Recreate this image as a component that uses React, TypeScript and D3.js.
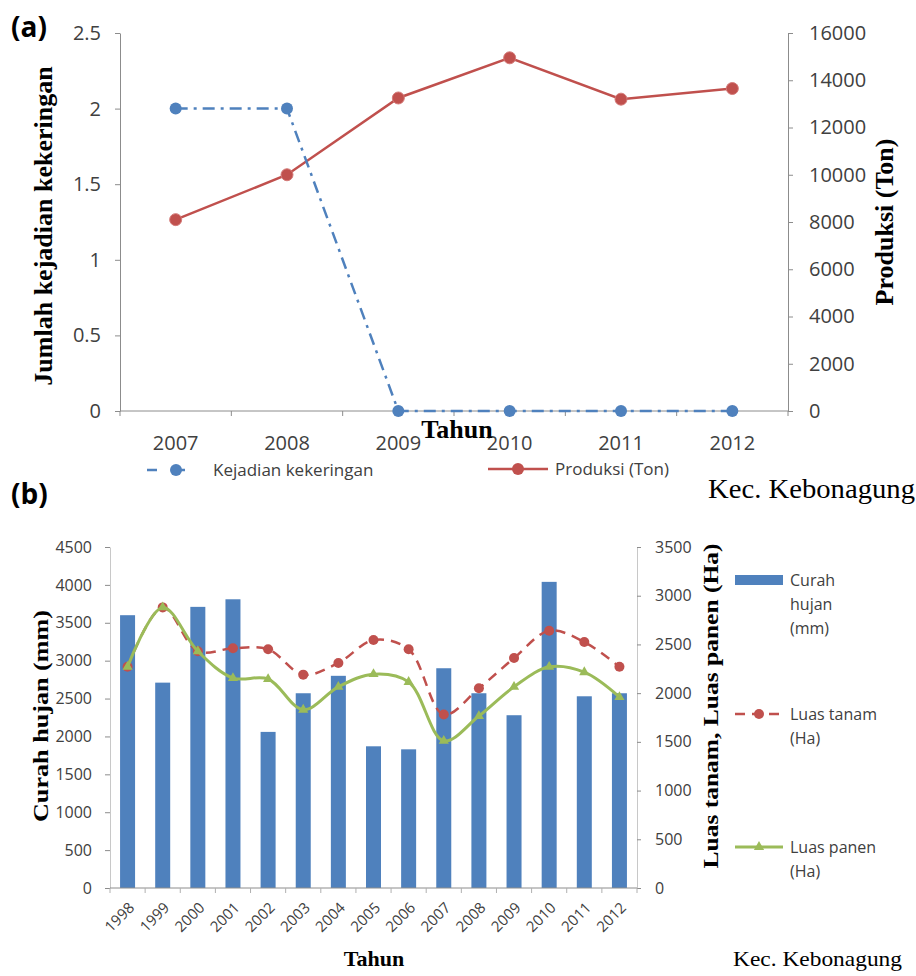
import React, { useEffect, useRef } from 'react';
import * as d3 from 'd3';

// panel (a)
const yearsA = ['2007', '2008', '2009', '2010', '2011', '2012'];
const kejadian = [2, 2, 0, 0, 0, 0];
const produksi = [8100, 10000, 13250, 14950, 13200, 13650];
const leftTicksA = [0, 0.5, 1, 1.5, 2, 2.5];
const rightTicksA = [0, 2000, 4000, 6000, 8000, 10000, 12000, 14000, 16000];

// panel (b)
const yearsB = ['1998', '1999', '2000', '2001', '2002', '2003', '2004', '2005', '2006', '2007', '2008', '2009', '2010', '2011', '2012'];
const curahHujan = [3600, 2710, 3710, 3810, 2060, 2570, 2800, 1870, 1830, 2900, 2570, 2280, 4040, 2530, 2570];
const luasTanam = [2270, 2880, 2430, 2460, 2450, 2190, 2310, 2545, 2450, 1780, 2050, 2360, 2640, 2525, 2270];
const luasPanen = [2270, 2880, 2430, 2155, 2145, 1830, 2065, 2195, 2115, 1510, 1765, 2065, 2270, 2215, 1960];
const leftTicksB = [0, 500, 1000, 1500, 2000, 2500, 3000, 3500, 4000, 4500];
const rightTicksB = [0, 500, 1000, 1500, 2000, 2500, 3000, 3500];

const BLUE = '#4F81BD';
const RED = '#C0504D';
const GREEN = '#9BBB59';
const AXIS = '#8c8c8c';
const TXT = '#404040';
const SANS = "'Open Sans', 'Liberation Sans', sans-serif";
const SERIF = "'Liberation Serif', 'Times New Roman', serif";

export default function App() {
  const svgRef = useRef<SVGSVGElement>(null);

  useEffect(() => {
    const svg = d3.select(svgRef.current);
    svg.selectAll('*').remove();

    const styleAxis = (g: any, size: number) => {
      g.select('.domain').attr('stroke', AXIS);
      g.selectAll('.tick line').attr('stroke', AXIS);
      g.selectAll('.tick text').attr('fill', TXT).attr('font-family', SANS).attr('font-size', size);
    };

    // ---------- (a) ----------
    const xA = d3.scaleBand<string>().domain(yearsA).range([120, 788]);
    const bwA = xA.bandwidth();
    const yL = d3.scaleLinear().domain([0, 2.5]).range([411, 33]);
    const yR = d3.scaleLinear().domain([0, 16000]).range([411, 33]);

    const gA = svg.append('g');

    const axL = gA.append('g').attr('transform', 'translate(120,0)')
      .call(d3.axisLeft(yL).tickValues(leftTicksA).tickSizeInner(5).tickSizeOuter(0).tickPadding(14).tickFormat((d: any) => String(d)));
    styleAxis(axL, 20);

    const axR = gA.append('g').attr('transform', 'translate(788,0)')
      .call(d3.axisRight(yR).tickValues(rightTicksA).tickSizeInner(5).tickSizeOuter(0).tickPadding(16).tickFormat((d: any) => String(d)));
    styleAxis(axR, 20);

    // bottom axis (a)
    gA.append('line').attr('x1', 120).attr('x2', 788).attr('y1', yL(0)).attr('y2', yL(0)).attr('stroke', AXIS);
    gA.selectAll('.tickA').data([...yearsA.map(d => xA(d)!), 788]).join('line')
      .attr('x1', d => d).attr('x2', d => d).attr('y1', yL(0)).attr('y2', yL(0) + 5).attr('stroke', AXIS);
    gA.selectAll('.labA').data(yearsA).join('text')
      .attr('x', d => xA(d)! + bwA / 2).attr('y', 450).attr('text-anchor', 'middle')
      .attr('font-family', SANS).attr('font-size', 20).attr('fill', TXT).text(d => d);

    const cxA = (i: number) => xA(yearsA[i])! + bwA / 2;

    // produksi line
    gA.append('path').datum(produksi)
      .attr('fill', 'none').attr('stroke', RED).attr('stroke-width', 2.5)
      .attr('d', d3.line<number>().x((d, i) => cxA(i)).y(d => yR(d)));
    gA.selectAll('.ptP').data(produksi).join('circle')
      .attr('cx', (d, i) => cxA(i)).attr('cy', d => yR(d)).attr('r', 6)
      .attr('fill', RED).attr('stroke', '#d47a78').attr('stroke-width', 1);

    // kejadian line
    gA.append('path').datum(kejadian)
      .attr('fill', 'none').attr('stroke', BLUE).attr('stroke-width', 2.5)
      .attr('stroke-dasharray', '12,6,3,6')
      .attr('d', d3.line<number>().x((d, i) => cxA(i)).y(d => yL(d)));
    gA.selectAll('.ptK').data(kejadian).join('circle')
      .attr('cx', (d, i) => cxA(i)).attr('cy', d => yL(d)).attr('r', 6)
      .attr('fill', BLUE);

    // axis titles (a)
    gA.append('text').attr('transform', 'translate(52,226) rotate(-90)')
      .attr('text-anchor', 'middle').attr('font-family', SERIF).attr('font-weight', 'bold')
      .attr('font-size', 26).attr('fill', '#000').text('Jumlah kejadian kekeringan');
    gA.append('text').attr('transform', 'translate(893,222) rotate(-90)')
      .attr('text-anchor', 'middle').attr('font-family', SERIF).attr('font-weight', 'bold')
      .attr('font-size', 26).attr('fill', '#000').text('Produksi (Ton)');
    gA.append('text').attr('x', 457).attr('y', 438).attr('text-anchor', 'middle')
      .attr('font-family', SERIF).attr('font-weight', 'bold').attr('font-size', 26).text('Tahun');

    // legend (a)
    gA.append('line').attr('x1', 147).attr('x2', 197).attr('y1', 470).attr('y2', 470)
      .attr('stroke', BLUE).attr('stroke-width', 2.5).attr('stroke-dasharray', '10,18');
    gA.append('circle').attr('cx', 176).attr('cy', 470).attr('r', 6).attr('fill', BLUE);
    gA.append('text').attr('x', 213).attr('y', 476).attr('font-family', SANS).attr('font-size', 17)
      .attr('fill', TXT).text('Kejadian kekeringan');
    gA.append('line').attr('x1', 488).attr('x2', 548).attr('y1', 469).attr('y2', 469)
      .attr('stroke', RED).attr('stroke-width', 2.5);
    gA.append('circle').attr('cx', 518).attr('cy', 469).attr('r', 6).attr('fill', RED);
    gA.append('text').attr('x', 555).attr('y', 475).attr('font-family', SANS).attr('font-size', 17)
      .attr('fill', TXT).text('Produksi (Ton)');

    gA.append('text').attr('x', 708).attr('y', 498).attr('font-family', SERIF).attr('font-size', 27)
      .attr('textLength', 207).attr('lengthAdjust', 'spacingAndGlyphs').text('Kec. Kebonagung');
    gA.append('text').attr('x', 11).attr('y', 37).attr('font-family', SANS).attr('font-weight', 'bold')
      .attr('font-size', 28).text('(a)');

    // ---------- (b) ----------
    const xB = d3.scaleBand<string>().domain(yearsB).range([110, 637]);
    const bwB = xB.bandwidth();
    const barW = 15;
    const yB = d3.scaleLinear().domain([0, 4500]).range([888, 547]);
    const yB2 = d3.scaleLinear().domain([0, 3500]).range([888, 547]);
    const cxB = (i: number) => xB(yearsB[i])! + bwB / 2;

    const gB = svg.append('g');

    const axBL = gB.append('g').attr('transform', 'translate(110,0)')
      .call(d3.axisLeft(yB).tickValues(leftTicksB).tickSizeInner(5).tickSizeOuter(0).tickPadding(13).tickFormat((d: any) => String(d)));
    styleAxis(axBL, 16);
    axBL.select('.domain').attr('stroke', '#c8c8c8');

    const axBR = gB.append('g').attr('transform', 'translate(637,0)')
      .call(d3.axisRight(yB2).tickValues(rightTicksB).tickSizeInner(4).tickSizeOuter(0).tickPadding(14).tickFormat((d: any) => String(d)));
    styleAxis(axBR, 16);
    axBR.select('.domain').attr('stroke', '#c8c8c8');

    // bars
    gB.selectAll('.bar').data(curahHujan).join('rect')
      .attr('x', (d, i) => cxB(i) - barW / 2).attr('width', barW)
      .attr('y', d => yB(d)).attr('height', d => 888 - yB(d)).attr('fill', BLUE);

    // bottom axis (b)
    gB.append('line').attr('x1', 110).attr('x2', 637).attr('y1', 888).attr('y2', 888).attr('stroke', AXIS);
    gB.selectAll('.tickB').data([...yearsB.map(d => xB(d)!), 637]).join('line')
      .attr('x1', d => d).attr('x2', d => d).attr('y1', 888).attr('y2', 893).attr('stroke', '#b0b0b0');
    gB.selectAll('.labB').data(yearsB).join('text')
      .attr('transform', d => `translate(${xB(d)! + bwB / 2 + 4},${905}) rotate(-45)`)
      .attr('text-anchor', 'end').attr('dy', '0.35em')
      .attr('font-family', SANS).attr('font-size', 15).attr('fill', TXT).text(d => d);

    const curve = d3.curveCatmullRom.alpha(0.5);

    // luas tanam
    gB.append('path').datum(luasTanam)
      .attr('fill', 'none').attr('stroke', RED).attr('stroke-width', 2.5).attr('stroke-dasharray', '10,7')
      .attr('d', d3.line<number>().x((d, i) => cxB(i)).y(d => yB2(d)).curve(curve));
    gB.selectAll('.ptT').data(luasTanam).join('circle')
      .attr('cx', (d, i) => cxB(i)).attr('cy', d => yB2(d)).attr('r', 5).attr('fill', RED);

    // luas panen
    gB.append('path').datum(luasPanen)
      .attr('fill', 'none').attr('stroke', GREEN).attr('stroke-width', 3)
      .attr('d', d3.line<number>().x((d, i) => cxB(i)).y(d => yB2(d)).curve(curve));
    const tri = d3.symbol().type(d3.symbolTriangle).size(45);
    gB.selectAll('.ptG').data(luasPanen).join('path')
      .attr('transform', (d, i) => `translate(${cxB(i)},${yB2(d)})`)
      .attr('d', tri() as string).attr('fill', GREEN);

    // axis titles (b)
    gB.append('text').attr('transform', 'translate(48,716) rotate(-90)')
      .attr('text-anchor', 'middle').attr('font-family', SERIF).attr('font-weight', 'bold')
      .attr('font-size', 22).attr('textLength', 212).attr('lengthAdjust', 'spacingAndGlyphs')
      .text('Curah hujan (mm)');
    gB.append('text').attr('transform', 'translate(718,706) rotate(-90)')
      .attr('text-anchor', 'middle').attr('font-family', SERIF).attr('font-weight', 'bold')
      .attr('font-size', 22).attr('textLength', 325).attr('lengthAdjust', 'spacingAndGlyphs')
      .text('Luas tanam, Luas panen (Ha)');
    gB.append('text').attr('x', 374).attr('y', 966).attr('text-anchor', 'middle')
      .attr('font-family', SERIF).attr('font-weight', 'bold').attr('font-size', 22).text('Tahun');

    // legend (b)
    gB.append('rect').attr('x', 735).attr('y', 575).attr('width', 48).attr('height', 10).attr('fill', BLUE);
    ['Curah', 'hujan', '(mm)'].forEach((t, i) => {
      gB.append('text').attr('x', 790).attr('y', 586 + i * 24).attr('font-family', SANS)
        .attr('font-size', 16).attr('fill', TXT).text(t);
    });
    gB.append('line').attr('x1', 735).attr('x2', 783).attr('y1', 714).attr('y2', 714)
      .attr('stroke', RED).attr('stroke-width', 2.5).attr('stroke-dasharray', '10,7');
    gB.append('circle').attr('cx', 759).attr('cy', 714).attr('r', 5).attr('fill', RED);
    ['Luas tanam', '(Ha)'].forEach((t, i) => {
      gB.append('text').attr('x', 790).attr('y', 720 + i * 24).attr('font-family', SANS)
        .attr('font-size', 16).attr('fill', TXT).text(t);
    });
    gB.append('line').attr('x1', 735).attr('x2', 783).attr('y1', 847).attr('y2', 847)
      .attr('stroke', GREEN).attr('stroke-width', 3);
    gB.append('path').attr('transform', 'translate(759,847)').attr('d', tri() as string).attr('fill', GREEN);
    ['Luas panen', '(Ha)'].forEach((t, i) => {
      gB.append('text').attr('x', 790).attr('y', 853 + i * 24).attr('font-family', SANS)
        .attr('font-size', 16).attr('fill', TXT).text(t);
    });

    gB.append('text').attr('x', 733).attr('y', 966).attr('font-family', SERIF).attr('font-size', 22)
      .attr('textLength', 169).attr('lengthAdjust', 'spacingAndGlyphs').text('Kec. Kebonagung');
    gB.append('text').attr('x', 11).attr('y', 504).attr('font-family', SANS).attr('font-weight', 'bold')
      .attr('font-size', 28).text('(b)');
  }, []);

  return (
    <svg ref={svgRef} width={916} height={976}
      style={{ position: 'absolute', left: 0, top: 0, background: '#fff' }} />
  );
}
